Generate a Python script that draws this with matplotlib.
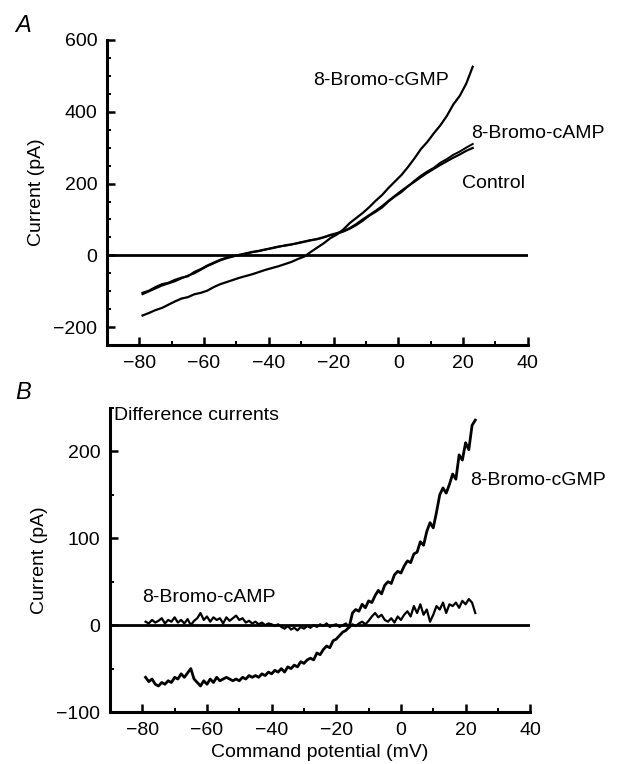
import numpy as np
import matplotlib
matplotlib.use('Agg')
import matplotlib.pyplot as plt
from matplotlib.ticker import MultipleLocator

plt.rcParams['font.family'] = ['Liberation Sans', 'DejaVu Sans']
plt.rcParams['font.size'] = 14

# panel A: whole-cell currents, sampled every 2 mV
volt_a = np.arange(-79, 24, 2)
control_a = [-104, -98, -88, -80, -76, -68, -62, -58, -46, -38, -28, -20, -12, -6, -2, 2,
             6, 10, 13, 17, 20, 24, 28, 31, 34, 38, 42, 46, 51, 57, 62, 68, 76, 87, 100, 112,
             124, 137, 152, 166, 180, 193, 205, 218, 230, 241, 252, 262, 272, 281, 291, 299]
camp_a = [-108, -100, -92, -84, -78, -72, -64, -56, -50, -40, -30, -22, -14, -8, -3, 1,
          5, 9, 12, 16, 21, 25, 27, 30, 35, 39, 43, 45, 50, 56, 60, 66, 74, 84, 96, 110,
          121, 133, 150, 164, 176, 192, 208, 222, 234, 244, 258, 268, 280, 289, 300, 310]
cgmp_a = [-167, -160, -152, -146, -137, -128, -120, -116, -108, -104, -98, -88, -80, -74, -68, -62,
          -57, -52, -46, -40, -35, -30, -24, -18, -10, -3, 10, 22, 34, 48, 58, 72, 90, 104, 118, 134,
          152, 168, 188, 206, 224, 246, 270, 296, 316, 340, 362, 388, 420, 444, 478, 525]

# panel B: difference currents, sampled every 1 mV
volt_b = np.arange(-79, 24, 1)
cgmp_b = [-60, -65, -62, -68, -70, -66, -68, -64, -66, -60, -62, -56, -60, -55, -50, -62,
          -66, -70, -64, -68, -62, -66, -60, -64, -62, -60, -62, -64, -62, -64, -60, -62,
          -58, -60, -58, -60, -56, -58, -54, -56, -52, -54, -50, -54, -48, -50, -46, -48,
          -42, -44, -40, -38, -40, -32, -34, -28, -24, -26, -18, -16, -12, -8, -6, -2,
          14, 18, 16, 24, 20, 28, 26, 34, 40, 36, 46, 50, 48, 58, 62, 60, 68, 74,
          72, 82, 84, 96, 92, 108, 118, 112, 130, 150, 158, 152, 162, 174, 168, 196, 190, 210,
          202, 230, 236]
camp_b = [4, 2, 6, 3, 5, 8, 2, 6, 4, 9, 3, 6, 2, 7, 0, 5,
          8, 14, 6, 10, 4, 9, 6, 8, 2, 9, 5, 8, 11, 6, 8, 3,
          5, 2, 4, 1, 3, 0, 2, 1, -1, 1, -2, -4, -1, -5, -3, -6,
          -2, -4, -1, -3, 0, -2, 1, -1, 2, -2, 0, 1, -2, 0, 2, -3,
          1, -1, 2, 4, 1, 5, 10, 14, 9, 12, 6, 4, 8, 3, 10, 6, 12, 16,
          10, 22, 14, 24, 12, 18, 4, 12, 22, 18, 26, 14, 24, 22, 26, 20, 28, 24,
          30, 26, 14]

fig = plt.figure(figsize=(6.18, 7.64), dpi=100)
ax1 = fig.add_axes([0.173, 0.548, 0.681, 0.400])
ax2 = fig.add_axes([0.178, 0.068, 0.680, 0.398])


def style(ax, ylo, yhi, ymaj, ymin):
    for s in ['top', 'right']:
        ax.spines[s].set_visible(False)
    for s in ['left', 'bottom']:
        ax.spines[s].set_linewidth(2.2)
    ax.set_xlim(-90, 40)
    ax.set_ylim(ylo, yhi)
    ax.xaxis.set_major_locator(MultipleLocator(20))
    ax.xaxis.set_minor_locator(MultipleLocator(10))
    ax.yaxis.set_major_locator(MultipleLocator(ymaj))
    ax.yaxis.set_minor_locator(MultipleLocator(ymin))
    ax.tick_params(which='major', direction='in', length=6, width=1.8, labelsize=14, pad=7)
    ax.tick_params(which='minor', direction='in', length=3, width=1.4)
    ax.axhline(0, color='black', lw=2.0)
    ax.set_ylabel('Current (pA)', fontsize=14, labelpad=6)


style(ax1, -250, 600, 200, 50)
ax1.plot(volt_a, control_a, color='black', lw=1.6)
ax1.plot(volt_a, camp_a, color='black', lw=1.4)
ax1.plot(volt_a, cgmp_a, color='black', lw=1.6)
ax1.text(-26.2, 487, '8-Bromo-cGMP', va='center', fontsize=14)
ax1.text(22.6, 339, '8-Bromo-cAMP', va='center', fontsize=14)
ax1.text(19.8, 200, 'Control', va='center', fontsize=14)

style(ax2, -100, 250, 100, 50)
ax2.plot(volt_b, cgmp_b, color='black', lw=2.0)
ax2.plot(volt_b, camp_b, color='black', lw=1.6)
ax2.text(-88.7, 241, 'Difference currents', va='center', fontsize=14)
ax2.text(-80, 32, '8-Bromo-cAMP', va='center', fontsize=14)
ax2.text(21.4, 167, '8-Bromo-cGMP', va='center', fontsize=14)
ax2.set_xlabel('Command potential (mV)', fontsize=14, labelpad=4)

fig.text(0.025, 0.967, 'A', fontsize=17, style='italic', va='center')
fig.text(0.025, 0.486, 'B', fontsize=17, style='italic', va='center')

fig.savefig('out.png', dpi=100)
